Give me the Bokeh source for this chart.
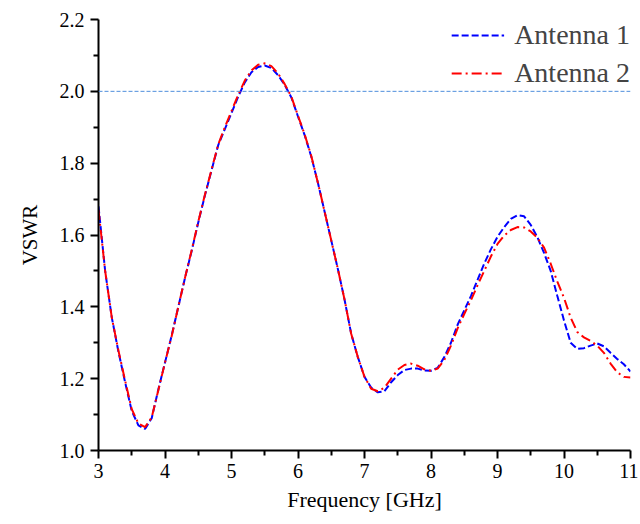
from bokeh.plotting import figure
from bokeh.models import Range1d, FixedTicker, Span, Legend, LegendItem, Title, NumeralTickFormatter
from bokeh.embed import file_html
from bokeh.resources import INLINE

FONT = "Liberation Serif"

freq = [3.0, 3.1, 3.2, 3.3, 3.4, 3.5, 3.6, 3.7, 3.8, 3.9,
        4.0, 4.1, 4.2, 4.3, 4.4, 4.5, 4.6, 4.7, 4.8, 4.9,
        5.0, 5.1, 5.2, 5.3, 5.4, 5.5, 5.6, 5.7, 5.8, 5.9,
        6.0, 6.1, 6.2, 6.3, 6.4, 6.5, 6.6, 6.7, 6.8, 6.9,
        7.0, 7.1, 7.2, 7.3, 7.4, 7.5, 7.6, 7.7, 7.8, 7.9,
        8.0, 8.1, 8.2, 8.3, 8.4, 8.5, 8.6, 8.7, 8.8, 8.9,
        9.0, 9.1, 9.2, 9.3, 9.4, 9.5, 9.6, 9.7, 9.8, 9.9,
        10.0, 10.1, 10.2, 10.3, 10.4, 10.5, 10.6, 10.7, 10.8, 10.9,
        11.0]

antenna1 = [1.68, 1.50, 1.37, 1.275, 1.19, 1.11, 1.07, 1.06, 1.09, 1.17,
            1.245, 1.32, 1.40, 1.48, 1.555, 1.635, 1.71, 1.78, 1.85, 1.895,
            1.94, 1.985, 2.025, 2.053, 2.068, 2.072, 2.065, 2.045, 2.018, 1.983,
            1.93, 1.878, 1.818, 1.745, 1.665, 1.585, 1.505, 1.42, 1.325, 1.26,
            1.205, 1.175, 1.162, 1.165, 1.19, 1.21, 1.224, 1.228, 1.228, 1.223,
            1.222, 1.23, 1.26, 1.30, 1.35, 1.39, 1.43, 1.475, 1.52, 1.56,
            1.595, 1.622, 1.645, 1.655, 1.652, 1.628, 1.594, 1.55, 1.50, 1.43,
            1.362, 1.30, 1.283, 1.285, 1.292, 1.298, 1.29, 1.272, 1.255, 1.24,
            1.22]

antenna2 = [1.67, 1.50, 1.37, 1.278, 1.195, 1.115, 1.075, 1.065, 1.092, 1.168,
            1.245, 1.318, 1.40, 1.48, 1.557, 1.637, 1.712, 1.782, 1.852, 1.90,
            1.945, 1.99, 2.03, 2.058, 2.074, 2.078, 2.07, 2.05, 2.02, 1.985,
            1.932, 1.88, 1.82, 1.745, 1.665, 1.585, 1.505, 1.42, 1.325, 1.26,
            1.205, 1.172, 1.165, 1.175, 1.20, 1.225, 1.238, 1.242, 1.236, 1.226,
            1.222, 1.228, 1.252, 1.292, 1.34, 1.38, 1.418, 1.46, 1.50, 1.54,
            1.575, 1.598, 1.614, 1.622, 1.621, 1.61, 1.592, 1.565, 1.52, 1.47,
            1.425, 1.37, 1.33, 1.315, 1.305, 1.292, 1.272, 1.242, 1.218, 1.205,
            1.203]

x_ticks = [3, 4, 5, 6, 7, 8, 9, 10, 11]
x_minor = [3.5, 4.5, 5.5, 6.5, 7.5, 8.5, 9.5, 10.5]
y_ticks = [1.0, 1.2, 1.4, 1.6, 1.8, 2.0, 2.2]
y_minor = [1.1, 1.3, 1.5, 1.7, 1.9, 2.1]
threshold = 2.0

p = figure(width=638, height=522, output_backend="svg", toolbar_location=None,
           x_range=Range1d(3, 11), y_range=Range1d(1.0, 2.2),
           min_border_left=96, min_border_right=8, min_border_top=19, min_border_bottom=72)

p.outline_line_color = None
p.xgrid.visible = False
p.ygrid.visible = False

span = Span(location=threshold, dimension="width", line_color="#4F8FDC",
            line_dash="4 2", line_width=1)
p.add_layout(span)

r1 = p.line(freq, antenna1, line_color="#0000FF", line_width=2, line_dash="7 3")
r2 = p.line(freq, antenna2, line_color="#FF0000", line_width=2, line_dash="10 4 2 4")

for ax, ticks, minor in ((p.xaxis[0], x_ticks, x_minor), (p.yaxis[0], y_ticks, y_minor)):
    ax.ticker = FixedTicker(ticks=ticks, minor_ticks=minor)
    ax.axis_line_width = 2
    ax.axis_line_color = "black"
    ax.major_tick_line_width = 2
    ax.minor_tick_line_width = 2
    ax.major_tick_out = 8
    ax.major_tick_in = 0
    ax.minor_tick_out = 5
    ax.minor_tick_in = 0
    ax.major_label_text_font = FONT
    ax.major_label_text_color = "black"
    ax.major_label_text_font_size = "20px"

p.yaxis[0].formatter = NumeralTickFormatter(format="0.0")
p.xaxis[0].major_label_standoff = 5
p.yaxis[0].major_label_standoff = 6

p.add_layout(Title(text="Frequency [GHz]", align="center", standoff=9,
                   text_font=FONT, text_font_size="22px", text_font_style="normal",
                   text_color="black"), "below")
p.add_layout(Title(text="VSWR", align="center", standoff=30,
                   text_font=FONT, text_font_size="21px", text_font_style="normal",
                   text_color="black"), "left")

legend = Legend(items=[LegendItem(label="Antenna 1", renderers=[r1]),
                       LegendItem(label="Antenna 2", renderers=[r2])],
                location="top_right", margin=0, padding=4, spacing=6,
                glyph_width=53, glyph_height=28, label_height=28, label_standoff=10,
                label_text_font="serif", label_text_font_size="28px",
                border_line_color=None, background_fill_alpha=0)
p.add_layout(legend)

open("out.html", "w").write(file_html(p, INLINE))
